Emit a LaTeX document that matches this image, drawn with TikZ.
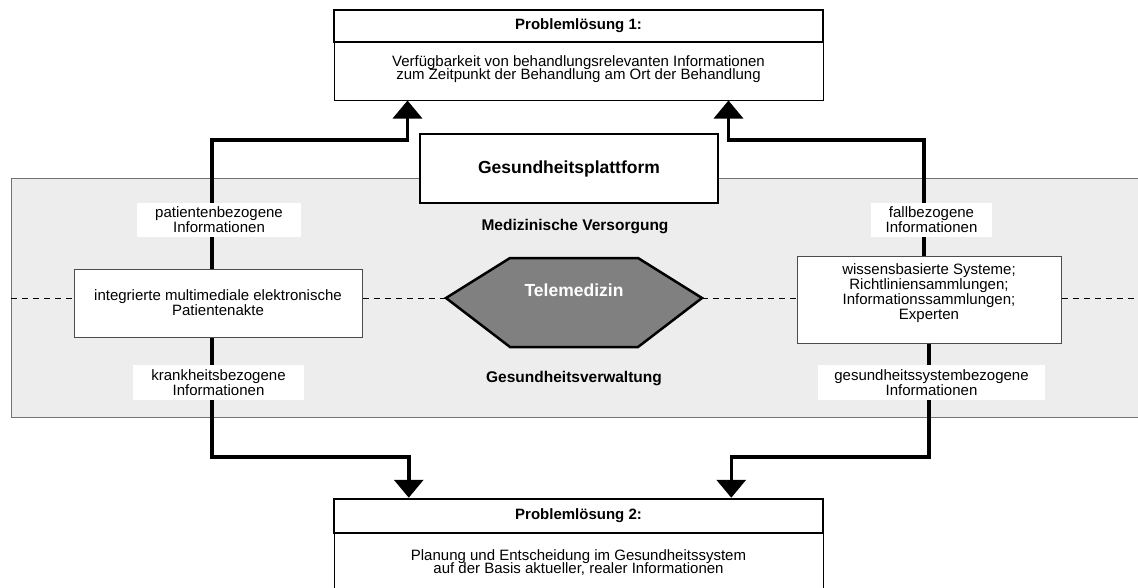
\documentclass[tikz,border=0pt]{standalone}
\usepackage{fontspec}
\setmainfont{Liberation Sans}
\usetikzlibrary{arrows.meta,positioning}

\tikzset{
  hdr/.style={draw, line width=2.5pt, fill=white, minimum width=489pt, minimum height=32pt, inner sep=0pt, font=\bfseries\fontsize{15}{17}\selectfont},
  body/.style={draw, line width=1pt, fill=white, minimum width=489pt, inner sep=0pt, align=center, font=\fontsize{15}{13}\selectfont},
  quelle/.style={draw=black!70, line width=1pt, fill=white, inner sep=0pt, align=center, font=\fontsize{15}{15}\selectfont},
  lbl/.style={fill=white, inner sep=0pt, align=center, font=\fontsize{15}{15}\selectfont},
  bereich/.style={font=\bfseries\fontsize{15.5}{17}\selectfont},
  band/.style={draw=black!55, line width=1pt, fill=black!7},
  flow/.style={line width=3.5pt, -{Triangle[width=29pt,length=18pt]}},
  trenn/.style={line width=0.8pt, dash pattern=on 6pt off 5pt}
}

\begin{document}
\lineskiplimit=-10pt
\begin{tikzpicture}[x=1pt,y=-1pt]
        \useasboundingbox (0,0) rectangle (1138,587);
        % Hintergrund
        \node[band, minimum width=1140pt, minimum height=239pt, anchor=north west] (band) at (11,178) {};
        \coordinate (teleW) at (446,298);
        \coordinate (teleE) at (702,298);
        % Problemloesung 1
        \node[body, minimum height=58pt] (info1) at (578.5,71) {Verfügbarkeit von behandlungsrelevanten Informationen\\zum Zeitpunkt der Behandlung am Ort der Behandlung\\[-6pt]};
        \node[hdr] (ploesung1) at (578.5,26) {Problemlösung 1:};
        % Problemloesung 2
        \node[body, minimum height=60pt] (plan) at (578.5,563) {Planung und Entscheidung im Gesundheitssystem\\auf der Basis aktueller, realer Informationen};
        \node[hdr, minimum height=34pt] (ploesung2) at (578.5,516) {Problemlösung 2:};
        % Quellen
        \node[quelle, minimum width=288pt, minimum height=68pt] (akte) at (218,303) {integrierte multimediale elektronische\\Patientenakte};
        \node[quelle, minimum width=264pt, minimum height=87pt] (wissen) at (929,299.5) {wissensbasierte Systeme;\\Richtliniensammlungen;\\Informationssammlungen;\\Experten\\[0pt]};
        % Trennlinie
        \draw[trenn] (band.west) -- (akte.west |- band.west);
        \draw[trenn] (akte.east |- band.west) -- (teleW);
        \draw[trenn] (teleE) -- (wissen.west |- band.west);
        \draw[trenn] (wissen.east |- band.west) -- (band.east);
        % Informationsfluesse
        \coordinate (obenL) at (212,140);
        \coordinate (obenR) at (924,140);
        \coordinate (untenL) at (212,457);
        \coordinate (untenR) at (929,457);
        \draw[flow] (akte.north -| obenL) -- (obenL) -| ([xshift=74pt]info1.south west);
        \draw[flow] (wissen.north -| obenR) -- (obenR) -| ([xshift=-95pt]info1.south east);
        \draw[flow] (akte.south -| untenL) -- (untenL) -| ([xshift=76pt]ploesung2.north west);
        \draw[flow] (wissen.south -| untenR) -- (untenR) -| ([xshift=-93pt]ploesung2.north east);
        \node[lbl, minimum width=164pt, minimum height=34pt] (patient) at (219,220) {patientenbezogene\\Informationen};
        \node[lbl, minimum width=171pt, minimum height=35pt] (krank) at (218.5,382.5) {krankheitsbezogene\\Informationen};
        \node[lbl, minimum width=121pt, minimum height=34pt] (fall) at (931.5,220) {fallbezogene\\Informationen};
        \node[lbl, minimum width=227pt, minimum height=35pt] (gsys) at (931.5,382.5) {gesundheitssystembezogene\\Informationen};
        % Plattform
        \node[draw, line width=2.5pt, fill=white, minimum width=298pt, minimum height=69pt, font=\bfseries\fontsize{17.5}{19}\selectfont] (plattform) at (569,168.5) {Gesundheitsplattform};
        \node[bereich] (versorgung) at (575,227) {Medizinische Versorgung};
        \node[bereich] (verwaltung) at (574,379) {Gesundheitsverwaltung};
        % Telemedizin
        \draw[line width=2.5pt, fill=black!50] (teleW) -- (510,258) -- (638,258) -- (teleE) -- (638,347) -- (510,347) -- cycle;
        \node[text=white, font=\bfseries\fontsize{17.5}{19}\selectfont] (tele) at (574,290) {Telemedizin};
\end{tikzpicture}
\end{document}
